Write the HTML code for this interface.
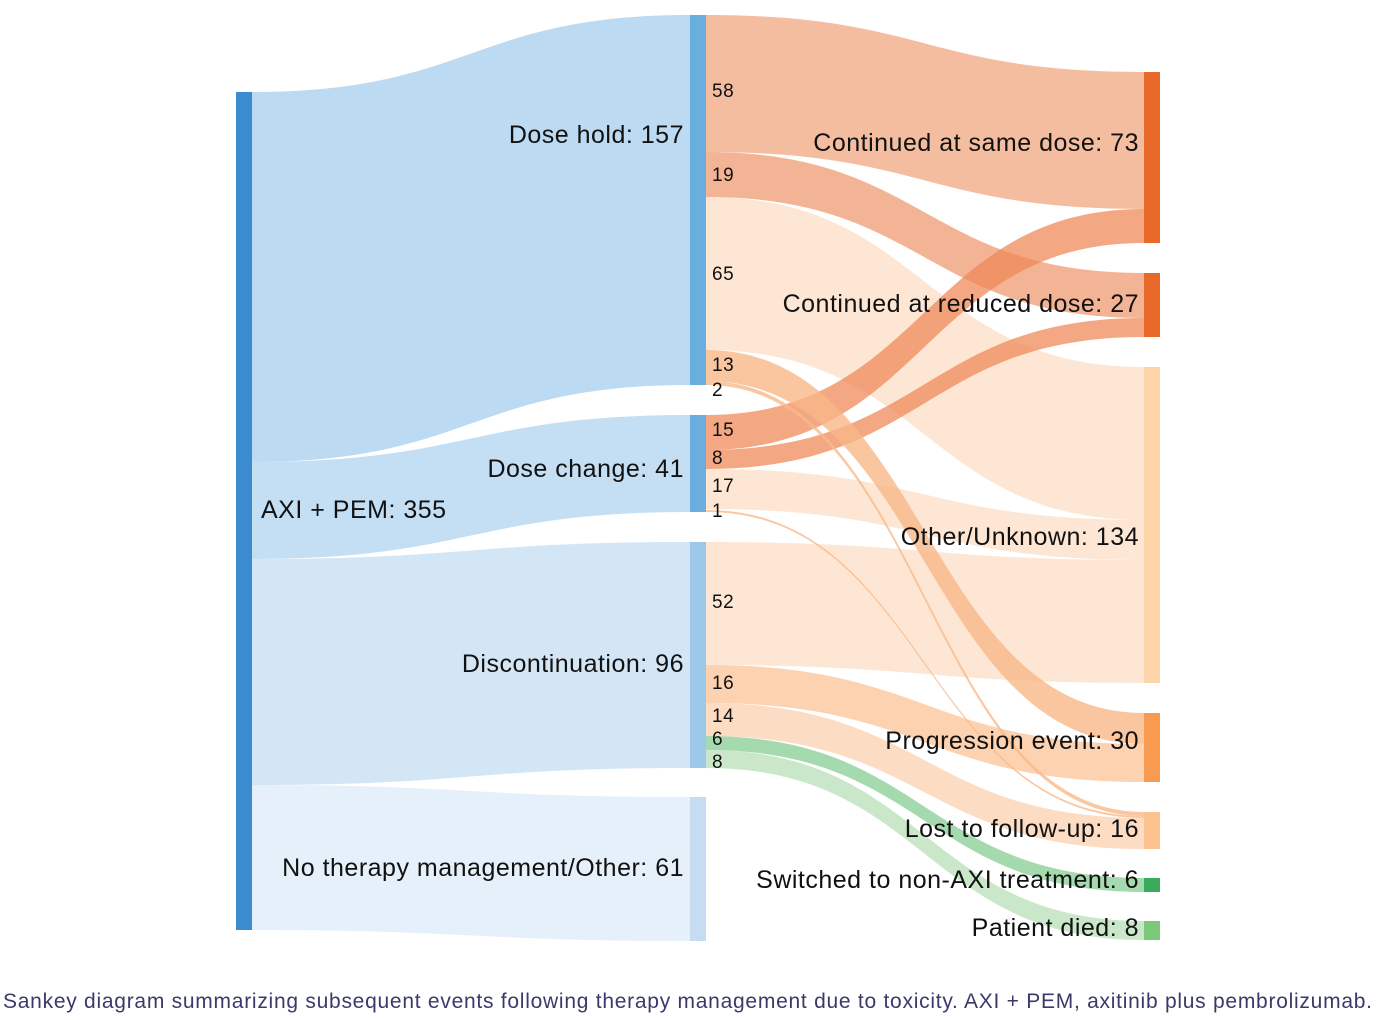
<!DOCTYPE html>
<html><head><meta charset="utf-8"><style>
body{margin:0;background:#fff;}
svg{display:block;font-family:"Liberation Sans",sans-serif;}
</style></head><body>
<svg width="1386" height="1020" viewBox="0 0 1386 1020">
<g>
<path d="M252,92C471,92 471,15 690,15L690,385C471,385 471,462 252,462Z" fill="#bcdaf2"/>
<path d="M252,462C471,462 471,415 690,415L690,512C471,512 471,559 252,559Z" fill="#c4def4"/>
<path d="M252,559C471,559 471,542 690,542L690,768C471,768 471,785 252,785Z" fill="#d3e6f6"/>
<path d="M252,785C471,785 471,797 690,797L690,941C471,941 471,930 252,930Z" fill="#e6f0fa"/>
<g fill-opacity="0.9">
<path d="M706,197C925,197 925,367 1144,367L1144,520C925,520 925,350 706,350Z" fill="#fde4cf"/>
<path d="M706,469C925,469 925,520 1144,520L1144,560C925,560 925,509 706,509Z" fill="#fde4cf"/>
<path d="M706,542C925,542 925,560 1144,560L1144,683C925,683 925,665 706,665Z" fill="#fde4cf"/>
<path d="M706,15C925,15 925,72 1144,72L1144,209C925,209 925,152 706,152Z" fill="#f4b696"/>
</g>
<path d="M706,152C925,152 925,273 1144,273L1144,318C925,318 925,197 706,197Z" fill="#f0a07a" fill-opacity="0.8"/>
<path d="M706,415C925,415 925,209 1144,209L1144,243C925,243 925,450 706,450Z" fill="#ef8a5a" fill-opacity="0.75"/>
<path d="M706,450C925,450 925,318 1144,318L1144,337C925,337 925,469 706,469Z" fill="#ef8a5a" fill-opacity="0.75"/>
<path d="M706,350C925,350 925,713 1144,713L1144,744C925,744 925,381 706,381Z" fill="#f8b888" fill-opacity="0.8"/>
<path d="M706,665C925,665 925,744 1144,744L1144,782C925,782 925,703 706,703Z" fill="#fbcaa2" fill-opacity="0.85"/>
<path d="M706,381C925,381 925,812 1144,812L1144,816C925,816 925,385 706,385Z" fill="#f9b98a" fill-opacity="0.8"/>
<path d="M706,510C925,510 925,816 1144,816L1144,818C925,818 925,512 706,512Z" fill="#f9b98a" fill-opacity="0.8"/>
<path d="M706,703C925,703 925,818 1144,818L1144,849C925,849 925,736 706,736Z" fill="#fcd6b8" fill-opacity="0.85"/>
<path d="M706,736C925,736 925,878 1144,878L1144,892C925,892 925,750 706,750Z" fill="#8fcf9a" fill-opacity="0.8"/>
<path d="M706,750C925,750 925,921 1144,921L1144,940C925,940 925,768 706,768Z" fill="#bde2bb" fill-opacity="0.8"/>
</g>
<g>
<rect x="236" y="92" width="16" height="838" fill="#3b8bd0"/>
<rect x="690" y="15" width="16" height="370" fill="#6aaee0"/>
<rect x="690" y="415" width="16" height="97" fill="#6aaee0"/>
<rect x="690" y="542" width="16" height="226" fill="#9cc8ea"/>
<rect x="690" y="797" width="16" height="144" fill="#c5dcf2"/>
<rect x="1144" y="72" width="16" height="171" fill="#e8692a"/>
<rect x="1144" y="273" width="16" height="64" fill="#e8692a"/>
<rect x="1144" y="367" width="16" height="316" fill="#fdd3a8"/>
<rect x="1144" y="713" width="16" height="69" fill="#f89a50"/>
<rect x="1144" y="812" width="16" height="37" fill="#fcc290"/>
<rect x="1144" y="878" width="16" height="14" fill="#3aaa5c"/>
<rect x="1144" y="921" width="16" height="19" fill="#7bc87b"/>
</g>
<g font-size="25" fill="#111" letter-spacing="0.5">
<text x="261" y="518">AXI + PEM: 355</text>
<g text-anchor="end">
<text x="684" y="143">Dose hold: 157</text>
<text x="684" y="477">Dose change: 41</text>
<text x="684" y="672">Discontinuation: 96</text>
<text x="684" y="876">No therapy management/Other: 61</text>
<text x="1139" y="151">Continued at same dose: 73</text>
<text x="1139" y="312">Continued at reduced dose: 27</text>
<text x="1139" y="545">Other/Unknown: 134</text>
<text x="1139" y="749">Progression event: 30</text>
<text x="1139" y="837">Lost to follow-up: 16</text>
<text x="1139" y="888">Switched to non-AXI treatment: 6</text>
<text x="1139" y="936">Patient died: 8</text>
</g>
</g>
<g font-size="19" fill="#111" letter-spacing="0.5">
<text x="712" y="97">58</text><text x="712" y="181">19</text><text x="712" y="280">65</text>
<text x="712" y="371">13</text><text x="712" y="396">2</text><text x="712" y="436">15</text>
<text x="712" y="464">8</text><text x="712" y="492">17</text><text x="712" y="517">1</text>
<text x="712" y="608">52</text><text x="712" y="689">16</text><text x="712" y="722">14</text>
<text x="712" y="745">6</text><text x="712" y="768">8</text>
</g>
<text x="3" y="1008" font-size="21" fill="#3a3a6a" textLength="1369" lengthAdjust="spacing">Sankey diagram summarizing subsequent events following therapy management due to toxicity. AXI + PEM, axitinib plus pembrolizumab.</text>
</svg>
</body></html>
